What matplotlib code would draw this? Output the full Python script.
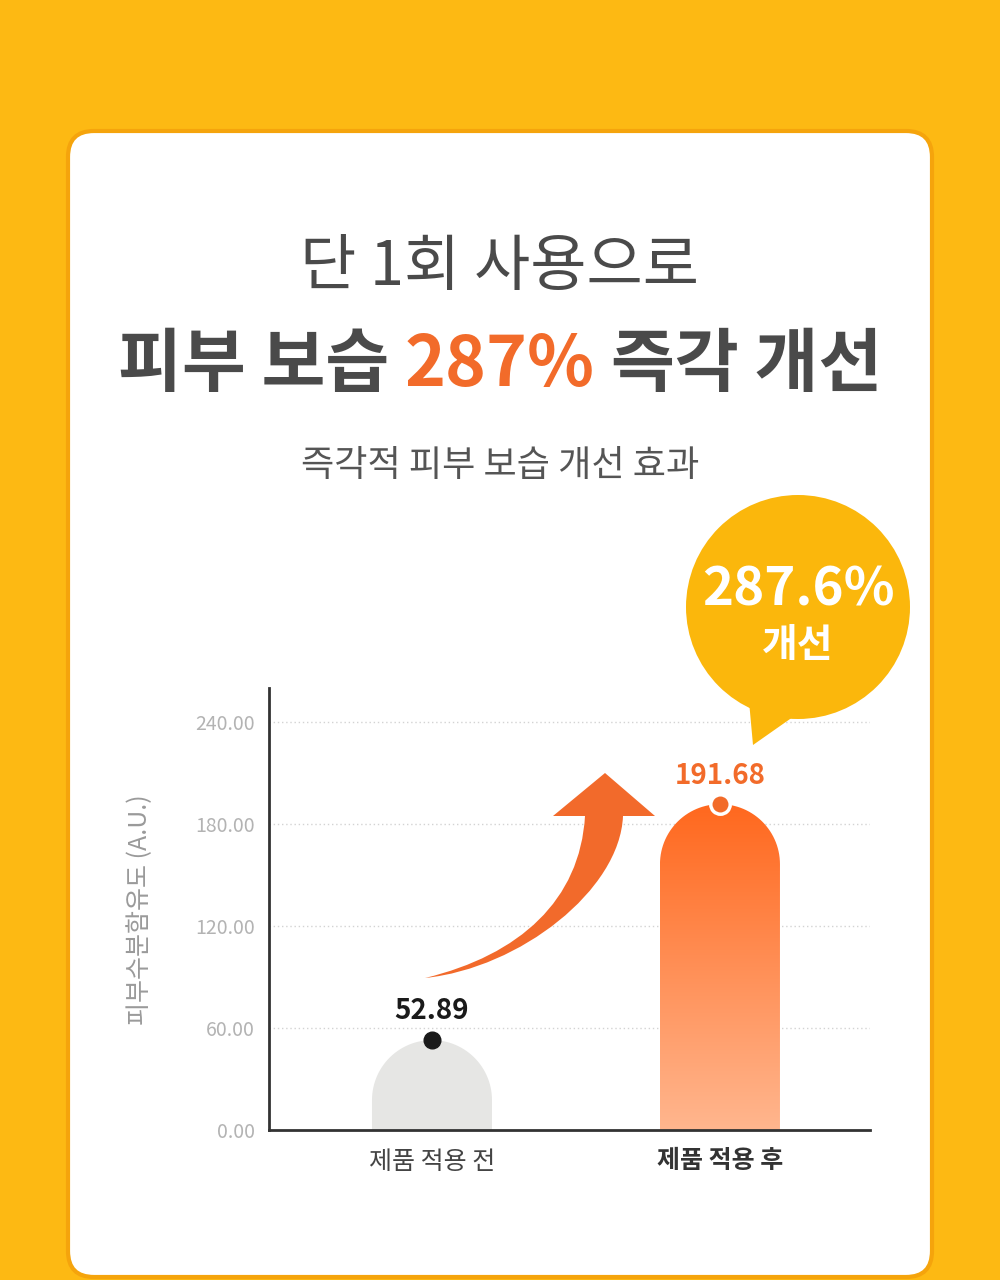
import numpy as np
import matplotlib
matplotlib.use("Agg")
import matplotlib.pyplot as plt
from matplotlib.patches import FancyBboxPatch, Circle, Polygon, PathPatch
from matplotlib.path import Path

plt.rcParams['font.family'] = ['Noto Sans CJK KR', 'DejaVu Sans']

# ---- data ----
categories = ["제품 적용 전", "제품 적용 후"]
values = [52.89, 191.68]
yticks = [0, 60, 120, 180, 240]
ylabel = "피부수분함유도 (A.U.)"
title1 = "단 1회 사용으로"
title2_parts = ["피부 보습", "287%", "즉각 개선"]
subtitle = "즉각적 피부 보습 개선 효과"
bubble_value = "287.6%"
bubble_word = "개선"

W, H = 1000, 1280
fig = plt.figure(figsize=(W / 100, H / 100), dpi=100)
fig.patch.set_facecolor('#FDB913')

# background layer in pixel coords (origin top-left)
bg = fig.add_axes([0, 0, 1, 1], zorder=0)
bg.set_xlim(0, W); bg.set_ylim(H, 0); bg.axis('off')
card = FancyBboxPatch((68, 131), 864, 1146, boxstyle="round,pad=0,rounding_size=26",
                      facecolor='white', edgecolor='#F5A40C', linewidth=3)
bg.add_patch(card)

bg.text(500, 268, title1, ha='center', va='center', fontsize=44, fontweight='medium', color='#4a4a4a')
bg.text(500, 466, subtitle, ha='center', va='center', fontsize=26, color='#555555')

# multi-colour second title line
r = fig.canvas.get_renderer()
fs2 = 50
colors2 = ['#4a4a4a', '#F26B2A', '#4a4a4a']
tmp = [bg.text(0, 0, p, fontsize=fs2, fontweight='bold') for p in title2_parts]
widths = [t.get_window_extent(r).width for t in tmp]
a = bg.text(0, 0, "가 가", fontsize=fs2, fontweight='bold').get_window_extent(r).width
b = bg.text(0, 0, "가가", fontsize=fs2, fontweight='bold').get_window_extent(r).width
for t in list(bg.texts)[-5:]:
    t.remove()
sp = a - b
total = sum(widths) + 2 * sp
x = 500 - total / 2
for p, w, c in zip(title2_parts, widths, colors2):
    bg.text(x, 366, p, ha='left', va='center', fontsize=fs2, fontweight='bold', color=c)
    x += w + sp

# y label
bg.text(140, 910, ylabel, rotation=90, ha='center', va='center', fontsize=18, color='#9a9a9a')

# ---- chart axes ----
left, right, top, bottom = 269, 870, 688, 1130
ax = fig.add_axes([left / W, (H - bottom) / H, (right - left) / W, (bottom - top) / H], zorder=1)
ax.set_facecolor('none')
xlim = (-0.566, 1.521)
ylim = (0, 260)
ax.set_xlim(*xlim); ax.set_ylim(*ylim)
for s in ['top', 'right']:
    ax.spines[s].set_visible(False)
for s in ['left', 'bottom']:
    ax.spines[s].set_color('#333333'); ax.spines[s].set_linewidth(2)
ax.set_yticks(yticks)
ax.set_yticklabels([f"{v:.2f}" for v in yticks], fontsize=14, color='#b3b3b3')
ax.set_xticks([0, 1])
ax.set_xticklabels(categories, fontsize=18, color='#444444')
ax.get_xticklabels()[1].set_fontweight('bold')
ax.get_xticklabels()[1].set_color('#333333')
ax.tick_params(axis='both', length=0)
ax.tick_params(axis='y', pad=10)
ax.tick_params(axis='x', pad=14)
for yv in yticks[1:]:
    ax.axhline(yv, color='#d3d3d3', lw=1, ls=(0, (1, 2)), zorder=0)

# rounded bars
bar_w = 0.4167
p0 = ax.transData.transform((0, 0)); p1 = ax.transData.transform((1, 1))
sx, sy = p1[0] - p0[0], p1[1] - p0[1]

def rounded_path(xc, v):
    rx = bar_w / 2
    ry = rx * sx / sy
    t = np.linspace(np.pi, 0, 60)
    arc = np.column_stack([xc + rx * np.cos(t), (v - ry) + ry * np.sin(t)])
    verts = np.vstack([[xc - rx, 0], [xc - rx, v - ry], arc, [xc + rx, 0], [xc - rx, 0]])
    return Path(verts, closed=True)

gray = PathPatch(rounded_path(0, values[0]), facecolor='#E6E6E4', edgecolor='none', zorder=2)
ax.add_patch(gray)

orange_clip = PathPatch(rounded_path(1, values[1]), facecolor='none', edgecolor='none', zorder=2)
ax.add_patch(orange_clip)
c_bot = np.array([255, 182, 142]) / 255
c_top = np.array([255, 104, 30]) / 255
f = np.linspace(0, 1, 256)[:, None]
grad = (c_bot[None, :] * (1 - f) + c_top[None, :] * f)[:, None, :]
im = ax.imshow(grad, extent=(1 - bar_w / 2, 1 + bar_w / 2, 0, values[1]), origin='lower',
               aspect='auto', zorder=2, interpolation='bilinear')
im.set_clip_path(orange_clip)
ax.set_xlim(*xlim); ax.set_ylim(*ylim)

# points and value labels
ax.plot(0, values[0], 'o', ms=12, color='#1a1a1a', zorder=5, clip_on=False)
ax.plot(1, values[1], 'o', ms=14, mfc='#F26B2A', mec='white', mew=2.5, zorder=5, clip_on=False)
ax.annotate(f"{values[0]:.2f}", (0, values[0]), xytext=(0, 21), textcoords='offset points',
            ha='center', va='center', fontsize=20, fontweight='bold', color='#1a1a1a')
ax.annotate(f"{values[1]:.2f}", (1, values[1]), xytext=(0, 20), textcoords='offset points',
            ha='center', va='center', fontsize=20, fontweight='bold', color='#F26B2A')

# ---- overlay: arrow and bubble ----
ov = fig.add_axes([0, 0, 1, 1], zorder=3)
ov.set_xlim(0, W); ov.set_ylim(H, 0); ov.axis('off'); ov.patch.set_alpha(0)

verts = [(425, 978), (520, 955), (580, 900), (585, 816),
         (553, 816), (605, 773), (655, 816), (623, 816),
         (620, 890), (520, 968), (425, 978), (425, 978)]
codes = [Path.MOVETO, Path.CURVE4, Path.CURVE4, Path.CURVE4,
         Path.LINETO, Path.LINETO, Path.LINETO, Path.LINETO,
         Path.CURVE4, Path.CURVE4, Path.CURVE4, Path.CLOSEPOLY]
ov.add_patch(PathPatch(Path(verts, codes), facecolor='#F26A2B', edgecolor='none'))

ov.add_patch(Circle((798, 607), 112, facecolor='#FBB70C', edgecolor='none'))
ov.add_patch(Polygon([(748, 690), (800, 712), (753, 745)], closed=True,
                     facecolor='#FBB70C', edgecolor='none'))
ov.text(798, 590, bubble_value, ha='center', va='center', fontsize=38, fontweight='bold', color='white')
ov.text(798, 646, bubble_word, ha='center', va='center', fontsize=28, fontweight='bold', color='white')

fig.savefig('out.png', dpi=100, facecolor=fig.get_facecolor())
